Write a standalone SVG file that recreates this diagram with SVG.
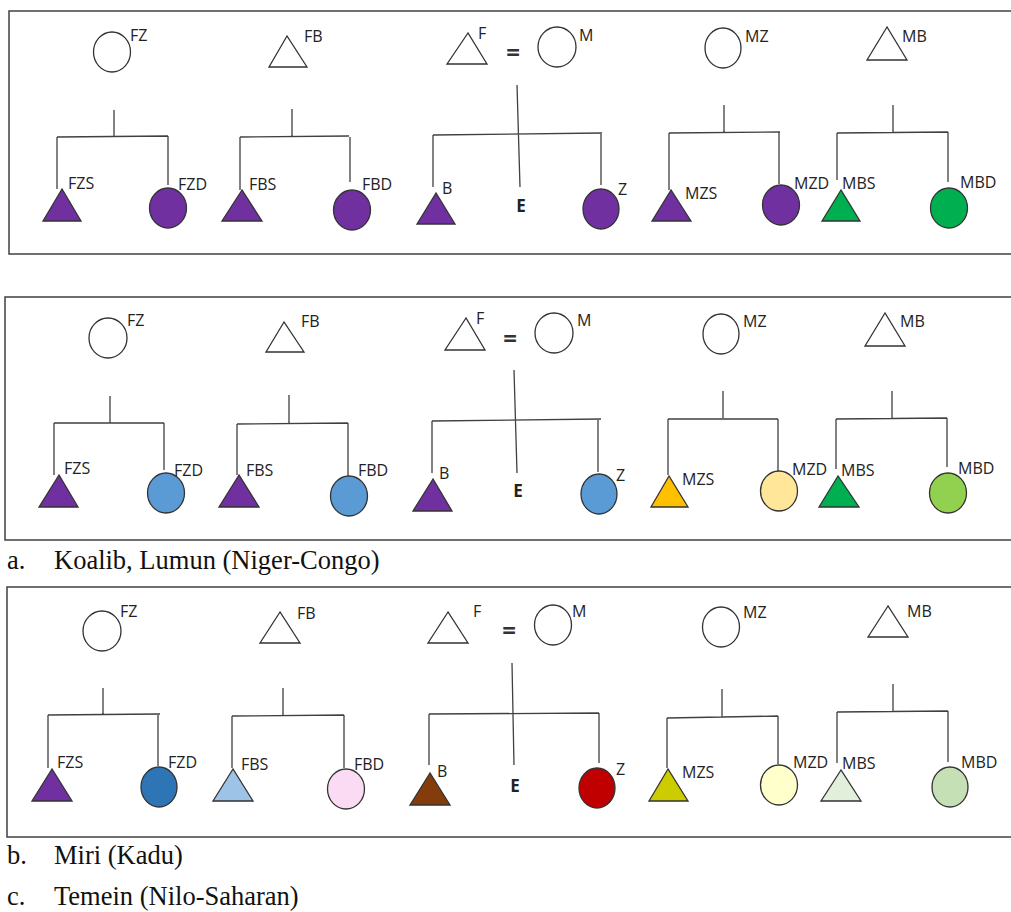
<svg xmlns="http://www.w3.org/2000/svg" width="1011" height="912" viewBox="0 0 1011 912">
<style>
.box{fill:none;stroke:#404040;stroke-width:1.5}
.ln{fill:none;stroke:#404040;stroke-width:1.3}
.sh{stroke:#333;stroke-width:1.3}
.open{fill:#fff}
.lb{font-family:"Open Sans","Liberation Sans",sans-serif;font-size:16px;fill:#222}
.e{font-family:"Open Sans","Liberation Sans",sans-serif;font-size:17px;font-weight:bold;fill:#222;text-anchor:middle}
.eq{font-family:"Open Sans","Liberation Sans",sans-serif;font-size:24px;font-weight:bold;fill:#333;text-anchor:middle}
.cap{font-family:"Liberation Serif","Times New Roman",serif;font-size:26.5px;fill:#111}
.pu{fill:#7030A0}.gr{fill:#00B050}
</style>
<rect class="box" x="9" y="11" width="1010" height="243"/>
<rect class="box" x="5" y="297" width="1014" height="243"/>
<rect class="box" x="7" y="587" width="1012" height="250"/>

<g id="connectors">
<path class="ln" d="M114,110V137M57,137L168,136M57,137V189M168,136V185"/>
<path class="ln" d="M292,109V137M240,137L349,136M240,137V190M350,137V182"/>
<path class="ln" d="M517,85L520,187M433,135L602,133M433,135V187M601,133V185"/>
<path class="ln" d="M724,105V132M669,133L780,132M669,133V190M779,132V184"/>
<path class="ln" d="M893,105V132M837,133L948,132M837,133V180M948,132V182"/>
<path class="ln" d="M110,396V423M54,423H164M54,423V475M164,423V470"/>
<path class="ln" d="M289,395V423M237,424L348,423M237,424V475M348,423V476"/>
<path class="ln" d="M514,370L517,473M432,421L601,419M432,421V473M598,419V472"/>
<path class="ln" d="M723,391V418M668,419H778M668,419V475M778,419V472"/>
<path class="ln" d="M892,391V418M836,419L947,418M836,419V469M947,418V467"/>
<path class="ln" d="M103,688V715M48,715L160,714M48,715V768M158,714V766"/>
<path class="ln" d="M283,688V715M232,716L344,715M232,716V768M344,715V768"/>
<path class="ln" d="M512,663L514,765M429,714L599,713M429,714V765M599,713V763"/>
<path class="ln" d="M722,689V717M667,718L778,716M667,718V768M778,716V764"/>
<path class="ln" d="M893,684V711M837,712L948,711M837,712V763M948,711V762"/>
</g>

<!-- Panel 1 -->
<g id="p1-FZ"><ellipse class="sh open" cx="112" cy="52" rx="18.5" ry="20"/><text class="lb" x="130" y="41">FZ</text></g>
<g id="p1-FB"><polygon class="sh open" points="287,36 269,67 307,67"/><text class="lb" x="304" y="42">FB</text></g>
<g id="p1-F"><polygon class="sh open" points="468,33 447,64 487,64"/><text class="lb" x="478" y="39">F</text></g>
<g id="p1-eq"><text class="eq" x="513" y="61">=</text></g>
<g id="p1-M"><ellipse class="sh open" cx="557" cy="47" rx="19" ry="20"/><text class="lb" x="579" y="41">M</text></g>
<g id="p1-MZ"><ellipse class="sh open" cx="723" cy="48" rx="18" ry="20"/><text class="lb" x="745" y="42">MZ</text></g>
<g id="p1-MB"><polygon class="sh open" points="887,27 867,60 907,60"/><text class="lb" x="902" y="42">MB</text></g>
<g id="p1-FZS"><polygon class="sh pu" points="62,189 43,221 81,221"/><text class="lb" x="68" y="189">FZS</text></g>
<g id="p1-FZD"><ellipse class="sh pu" cx="168" cy="208" rx="18.5" ry="20"/><text class="lb" x="178" y="190">FZD</text></g>
<g id="p1-FBS"><polygon class="sh pu" points="242,190 222,221 262,221"/><text class="lb" x="249" y="190">FBS</text></g>
<g id="p1-FBD"><ellipse class="sh pu" cx="352" cy="210" rx="18.5" ry="20"/><text class="lb" x="362" y="190">FBD</text></g>
<g id="p1-B"><polygon class="sh pu" points="436,193 417,224 455,224"/><text class="lb" x="442" y="194">B</text></g>
<g id="p1-E"><text class="e" x="521" y="212">E</text></g>
<g id="p1-Z"><ellipse class="sh pu" cx="601" cy="209" rx="18" ry="20"/><text class="lb" x="618" y="195">Z</text></g>
<g id="p1-MZS"><polygon class="sh pu" points="671,190 652,221 691,221"/><text class="lb" x="685" y="199">MZS</text></g>
<g id="p1-MZD"><ellipse class="sh pu" cx="781" cy="205" rx="18.5" ry="20"/><text class="lb" x="794" y="189">MZD</text></g>
<g id="p1-MBS"><polygon class="sh gr" points="841,190 822,221 860,221"/><text class="lb" x="842" y="189">MBS</text></g>
<g id="p1-MBD"><ellipse class="sh gr" cx="949" cy="208" rx="18.5" ry="20"/><text class="lb" x="960" y="188">MBD</text></g>

<!-- Panel 2 -->
<g id="p2-FZ"><ellipse class="sh open" cx="108" cy="338" rx="19" ry="20"/><text class="lb" x="127" y="326">FZ</text></g>
<g id="p2-FB"><polygon class="sh open" points="284,322 266,352 304,352"/><text class="lb" x="301" y="327">FB</text></g>
<g id="p2-F"><polygon class="sh open" points="466,318 445,350 485,350"/><text class="lb" x="476" y="324">F</text></g>
<g id="p2-eq"><text class="eq" x="510" y="347">=</text></g>
<g id="p2-M"><ellipse class="sh open" cx="554" cy="333" rx="19" ry="20"/><text class="lb" x="577" y="326">M</text></g>
<g id="p2-MZ"><ellipse class="sh open" cx="721" cy="334" rx="18" ry="20"/><text class="lb" x="743" y="327">MZ</text></g>
<g id="p2-MB"><polygon class="sh open" points="885,313 865,346 905,346"/><text class="lb" x="900" y="327">MB</text></g>
<g id="p2-FZS"><polygon class="sh pu" points="59,475 39,507 78,507"/><text class="lb" x="64" y="474">FZS</text></g>
<g id="p2-FZD"><ellipse class="sh" fill="#5B9BD5" cx="166" cy="493" rx="18.5" ry="20"/><text class="lb" x="174" y="476">FZD</text></g>
<g id="p2-FBS"><polygon class="sh pu" points="239,475 219,507 259,507"/><text class="lb" x="246" y="476">FBS</text></g>
<g id="p2-FBD"><ellipse class="sh" fill="#5B9BD5" cx="349" cy="496" rx="18.5" ry="20"/><text class="lb" x="358" y="476">FBD</text></g>
<g id="p2-B"><polygon class="sh pu" points="433,479 413,511 452,511"/><text class="lb" x="439" y="479">B</text></g>
<g id="p2-E"><text class="e" x="518" y="497">E</text></g>
<g id="p2-Z"><ellipse class="sh" fill="#5B9BD5" cx="599" cy="494" rx="18" ry="20"/><text class="lb" x="616" y="481">Z</text></g>
<g id="p2-MZS"><polygon class="sh" fill="#FFC000" points="669,476 651,507 688,507"/><text class="lb" x="682" y="485">MZS</text></g>
<g id="p2-MZD"><ellipse class="sh" fill="#FFE699" cx="779" cy="491" rx="18.5" ry="20"/><text class="lb" x="792" y="475">MZD</text></g>
<g id="p2-MBS"><polygon class="sh gr" points="838,476 819,507 859,507"/><text class="lb" x="841" y="476">MBS</text></g>
<g id="p2-MBD"><ellipse class="sh" fill="#92D050" cx="948" cy="493" rx="18.5" ry="20"/><text class="lb" x="958" y="474">MBD</text></g>

<!-- Panel 3 -->
<g id="p3-FZ"><ellipse class="sh open" cx="102" cy="631" rx="19" ry="20"/><text class="lb" x="120" y="617">FZ</text></g>
<g id="p3-FB"><polygon class="sh open" points="280,612 260,643 300,643"/><text class="lb" x="297" y="619">FB</text></g>
<g id="p3-F"><polygon class="sh open" points="448,612 428,643 468,643"/><text class="lb" x="473" y="617">F</text></g>
<g id="p3-eq"><text class="eq" x="509" y="639">=</text></g>
<g id="p3-M"><ellipse class="sh open" cx="553" cy="625" rx="18.5" ry="20"/><text class="lb" x="572" y="617">M</text></g>
<g id="p3-MZ"><ellipse class="sh open" cx="721" cy="627" rx="18.5" ry="20"/><text class="lb" x="743" y="618">MZ</text></g>
<g id="p3-MB"><polygon class="sh open" points="888,606 868,637 908,637"/><text class="lb" x="907" y="617">MB</text></g>
<g id="p3-FZS"><polygon class="sh pu" points="52,769 32,801 72,801"/><text class="lb" x="57" y="768">FZS</text></g>
<g id="p3-FZD"><ellipse class="sh" fill="#2E75B6" cx="159" cy="787" rx="18" ry="20"/><text class="lb" x="168" y="768">FZD</text></g>
<g id="p3-FBS"><polygon class="sh" fill="#9DC3E6" points="233,769 213,801 253,801"/><text class="lb" x="241" y="770">FBS</text></g>
<g id="p3-FBD"><ellipse class="sh" fill="#FADBF3" cx="346" cy="789" rx="18.5" ry="20"/><text class="lb" x="354" y="770">FBD</text></g>
<g id="p3-B"><polygon class="sh" fill="#843C0C" points="430,773 410,805 450,805"/><text class="lb" x="437" y="777">B</text></g>
<g id="p3-E"><text class="e" x="515" y="792">E</text></g>
<g id="p3-Z"><ellipse class="sh" fill="#C00000" cx="597" cy="788" rx="18" ry="20"/><text class="lb" x="616" y="775">Z</text></g>
<g id="p3-MZS"><polygon class="sh" fill="#CCCC00" points="668,769 649,801 688,801"/><text class="lb" x="682" y="778">MZS</text></g>
<g id="p3-MZD"><ellipse class="sh" fill="#FFFFCC" cx="779" cy="785" rx="18.5" ry="20"/><text class="lb" x="793" y="768">MZD</text></g>
<g id="p3-MBS"><polygon class="sh" fill="#E2EFDA" points="841,770 821,801 861,801"/><text class="lb" x="842" y="769">MBS</text></g>
<g id="p3-MBD"><ellipse class="sh" fill="#C5E0B4" cx="950" cy="787" rx="18" ry="20"/><text class="lb" x="961" y="768">MBD</text></g>

<g id="captions">
<text class="cap" x="7" y="569">a.</text><text class="cap" x="54" y="569">Koalib, Lumun (Niger-Congo)</text>
<text class="cap" x="7" y="864">b.</text><text class="cap" x="54" y="864">Miri (Kadu)</text>
<text class="cap" x="7" y="905">c.</text><text class="cap" x="54" y="905">Temein (Nilo-Saharan)</text>
</g>
</svg>
